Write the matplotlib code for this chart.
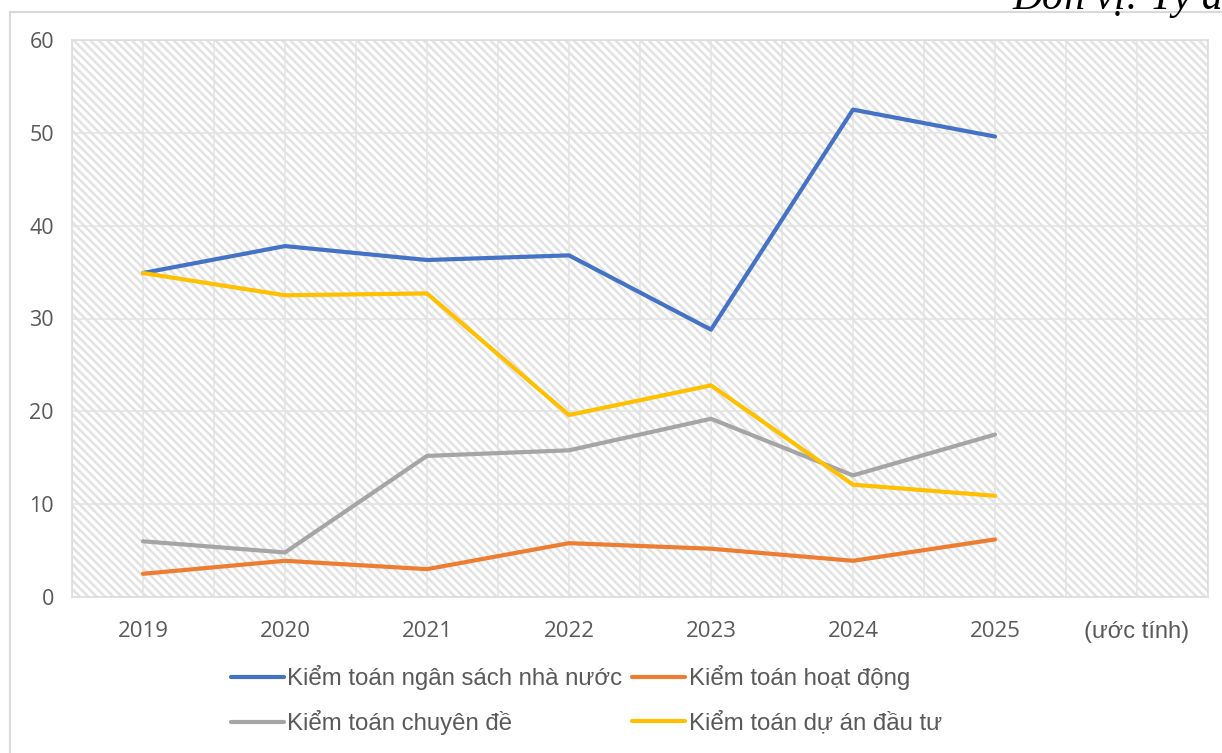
import matplotlib
matplotlib.use("Agg")
import matplotlib.pyplot as plt
from matplotlib.patches import Rectangle
from matplotlib.lines import Line2D
import numpy as np

# categories (the last one has no data, it is only a label)
categories = ['2019', '2020', '2021', '2022', '2023', '2024', '2025', '(ước tính)']
years = ['2019', '2020', '2021', '2022', '2023', '2024', '2025']

ngan_sach = [34.9, 37.8, 36.3, 36.8, 28.8, 52.5, 49.6]
hoat_dong = [2.5, 3.9, 3.0, 5.8, 5.2, 3.9, 6.2]
chuyen_de = [6.0, 4.8, 15.2, 15.8, 19.2, 13.1, 17.5]
du_an = [34.9, 32.5, 32.7, 19.6, 22.8, 12.1, 10.9]

series = [
    ('Kiểm toán ngân sách nhà nước', ngan_sach, '#4472C4'),
    ('Kiểm toán hoạt động', hoat_dong, '#ED7D31'),
    ('Kiểm toán chuyên đề', chuyen_de, '#A5A5A5'),
    ('Kiểm toán dự án đầu tư', du_an, '#FFC000'),
]

W, H = 1222, 753
plt.rcParams['hatch.linewidth'] = 1.8

fig = plt.figure(figsize=(W / 100, H / 100), dpi=100)
ax = fig.add_axes([72 / W, 1 - 597 / H, (1208 - 72) / W, (597 - 40) / H])

# striped background
ax.add_patch(Rectangle((0, 0), 1, 1, transform=ax.transAxes, facecolor='white',
                       edgecolor='#e2e2e2', linewidth=0, hatch='\\\\\\\\', zorder=0.1))

x = np.arange(len(years))
lines = {}
for name, vals, col in series:
    ln, = ax.plot(x, vals, color=col, lw=3, solid_capstyle='round',
                  solid_joinstyle='round', label=name, zorder=3)
    lines[name] = ln

ax.set_xlim(-0.5, len(categories) - 0.5)
ax.set_ylim(0, 60)
ax.set_yticks(range(0, 61, 10))
ax.set_xticks(np.arange(len(categories)))
ax.set_xticks(np.arange(-0.5, len(categories), 1.0), minor=True)
ax.set_xticklabels(categories)

ax.set_axisbelow(True)
ax.grid(True, which='both', axis='x', color='#e3e3e3', lw=1.1)
ax.grid(True, which='major', axis='y', color='#e3e3e3', lw=1.1)
ax.tick_params(which='both', length=0)
ax.tick_params(axis='y', pad=13, labelsize=15.5, labelcolor='#595959')
ax.tick_params(axis='x', pad=17, labelsize=16, labelcolor='#595959')
for lab in ax.get_yticklabels() + ax.get_xticklabels():
    lab.set_family('Open Sans')
last = ax.get_xticklabels()[-1]
last.set_family('Liberation Sans')
last.set_fontsize(17)

for s in ax.spines.values():
    s.set_color('#dddddd')
    s.set_linewidth(1.2)

# legend, column-major order so rows read blue/orange then gray/yellow
order = ['Kiểm toán ngân sách nhà nước', 'Kiểm toán chuyên đề',
         'Kiểm toán hoạt động', 'Kiểm toán dự án đầu tư']
fig.legend([lines[n] for n in order], order, loc='upper left',
           bbox_to_anchor=(231 / W, 1 - 665 / H), ncol=2, frameon=False,
           borderpad=0, borderaxespad=0, handlelength=2.2, handletextpad=0.15,
           columnspacing=0.4, labelspacing=0.85,
           prop={'family': 'Liberation Sans', 'size': 17.3}, labelcolor='#595959')

# outer chart border
fig.add_artist(Line2D([10 / W, 10 / W], [0, 1 - 12 / H], color='#d9d9d9', lw=1.5))
fig.add_artist(Line2D([10 / W, 1], [1 - 12 / H, 1 - 12 / H], color='#d9d9d9', lw=1.5))

# unit note, cut off by the top edge as in the source
fig.text(1012 / W, 1 - 9 / H, 'Đơn vị: Tỷ đồng', family='Liberation Serif',
         style='italic', fontsize=30, color='black', va='baseline', ha='left')

fig.savefig('out.png', dpi=100)
